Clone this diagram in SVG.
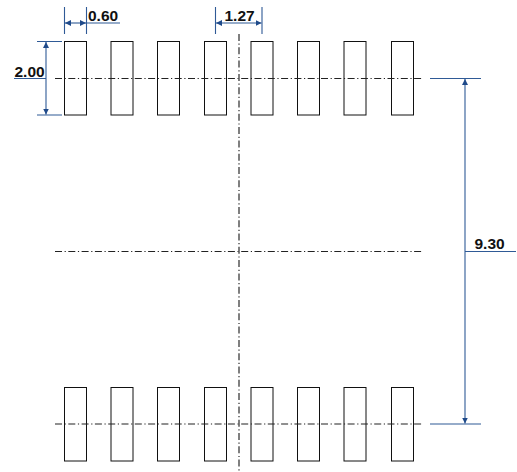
<svg xmlns="http://www.w3.org/2000/svg" width="517" height="472" viewBox="0 0 517 472">
<style>
.pad{fill:#fff;stroke:#111;stroke-width:1}
.cl{fill:none;stroke:#222;stroke-width:1.100;stroke-dasharray:7 2.6 1.2 2.5}
.clv{fill:none;stroke:#555;stroke-width:1.500;stroke-dasharray:7 2.6 1.2 2.5}
.dim{fill:none;stroke:#2f5a96;stroke-width:1.100}
.t{font:bold 15.500px "Liberation Sans",Arial,sans-serif;fill:#111}
</style>
<defs>
<marker id="a" viewBox="0 0 6 6" refX="6" refY="3" markerWidth="6" markerHeight="6" orient="auto-start-reverse" markerUnits="userSpaceOnUse"><path d="M0 0L6 3L0 6Z" fill="#1f4a8a"/></marker>
</defs>
<rect width="517" height="472" fill="#fff"/>
<g id="pads-top">
<rect class="pad" x="64.5" y="41.5" width="22" height="73.5"/>
<rect class="pad" x="111" y="41.5" width="22" height="73.5"/>
<rect class="pad" x="157.5" y="41.5" width="22" height="73.5"/>
<rect class="pad" x="204.5" y="41.5" width="22" height="73.5"/>
<rect class="pad" x="251" y="41.5" width="22" height="73.5"/>
<rect class="pad" x="297.5" y="41.5" width="22" height="73.5"/>
<rect class="pad" x="344" y="41.5" width="22" height="73.5"/>
<rect class="pad" x="391.5" y="41.5" width="22" height="73.5"/>
</g>
<g id="pads-bottom">
<rect class="pad" x="64.5" y="387.5" width="22" height="73.5"/>
<rect class="pad" x="111" y="387.5" width="22" height="73.5"/>
<rect class="pad" x="157.5" y="387.5" width="22" height="73.5"/>
<rect class="pad" x="204.5" y="387.5" width="22" height="73.5"/>
<rect class="pad" x="251" y="387.5" width="22" height="73.5"/>
<rect class="pad" x="297.5" y="387.5" width="22" height="73.5"/>
<rect class="pad" x="344" y="387.5" width="22" height="73.5"/>
<rect class="pad" x="391.5" y="387.5" width="22" height="73.5"/>
</g>
<g id="connectors">
<path class="cl" d="M55 78.5H423M55 251.5H423M55 424H423"/>
<path class="clv" d="M239 34V472"/>
<path class="dim" d="M64.5 7V34M86.5 7V34M86.5 23H120M215.5 7V34M262 7V34M37 41.5H62M37 115H62M14 78.5H46M430 78.5H481M430 424H481M465 251.5H516"/>
<path class="dim" marker-start="url(#a)" marker-end="url(#a)" d="M65 23H86"/>
<path class="dim" marker-start="url(#a)" marker-end="url(#a)" d="M216 23H261.500"/>
<path class="dim" marker-start="url(#a)" marker-end="url(#a)" d="M46 42V114.500"/>
<path class="dim" marker-start="url(#a)" marker-end="url(#a)" d="M465 79V423.500"/>
</g>
<g id="labels">
<text class="t" x="88" y="21">0.60</text>
<text class="t" x="224.500" y="21">1.27</text>
<text class="t" x="14.500" y="77">2.00</text>
<text class="t" x="474.500" y="248.500">9.30</text>
</g>
</svg>
